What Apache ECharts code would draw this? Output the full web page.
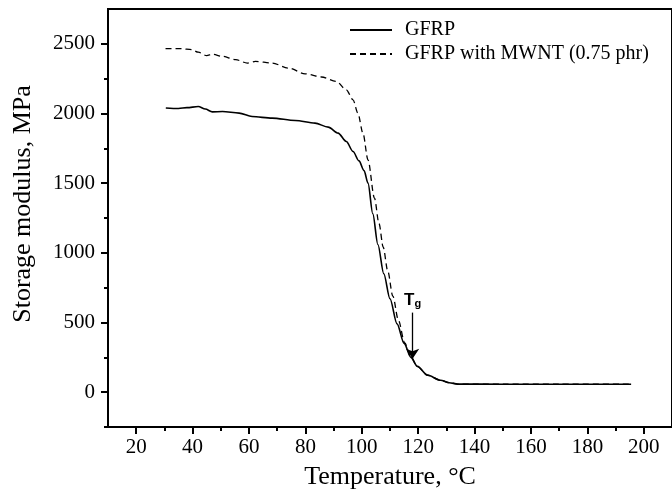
<!DOCTYPE html>
<html>
<head>
<meta charset="utf-8">
<script src="https://cdn.jsdelivr.net/npm/echarts@6/dist/echarts.min.js"></script>
<style>
    html, body { margin: 0; padding: 0; background: #fff; }
    #chart { width: 672px; height: 495px; }
</style>
</head>
<body>
<div id="chart"></div>
<script>
// storage modulus vs temperature
const gfrpTemp = [30.5, 35, 38, 42, 44.5, 47, 50.6, 56.5, 61.1, 68.2, 76.4, 83.4, 88.1, 91.6, 94.5, 96.9, 99.0, 100.8, 102.2, 103.9, 105.7, 107.8, 110.0, 112.5, 115.0, 117.4, 119.7, 123.3, 127.9, 131, 134, 150, 170, 195.5];
const gfrpMod  = [2040, 2036, 2042, 2050, 2032, 2012, 2014, 2003, 1978, 1967, 1950, 1931, 1902, 1859, 1799, 1727, 1660, 1590, 1500, 1280, 1060, 850, 670, 490, 350, 250, 185, 122, 86, 68, 58, 57, 57, 57];

const mwntTemp = [30.4, 36, 39.7, 42, 45, 47, 50.6, 55.3, 59.4, 62.3, 68.2, 74.0, 79.9, 85.7, 91.0, 94.5, 96.9, 98.6, 100.4, 102.2, 104.5, 106.1, 107.6, 109.2, 111.0, 113.0, 115.2, 117.4, 119.7, 123.3, 127.9, 131, 134, 150, 170, 195.5];
const mwntMod  = [2465, 2465, 2458, 2440, 2415, 2425, 2410, 2386, 2362, 2374, 2362, 2326, 2285, 2262, 2230, 2170, 2098, 2003, 1859, 1667, 1392, 1210, 1040, 870, 690, 515, 355, 252, 185, 122, 86, 68, 58, 57, 57, 57];

const seriesNames = ['GFRP', 'GFRP with MWNT (0.75 phr)'];

const xTicks = [20, 40, 60, 80, 100, 120, 140, 160, 180, 200];
const xMinorTicks = [30, 50, 70, 90, 110, 130, 150, 170, 190];
const yTicks = [0, 500, 1000, 1500, 2000, 2500];
const yMinorTicks = [-250, 250, 750, 1250, 1750, 2250];

// Tg arrow: [temperature, from modulus, to modulus]
const tgArrow = [118, 571, 240];

const SERIF = 'Liberation Serif';
const zip = (xs, ys) => xs.map((x, i) => [x, ys[i]]);

const chart = echarts.init(document.getElementById('chart'));

const baseX = { type: 'value', min: 10, max: 210, splitLine: { show: false } };
const baseY = { type: 'value', min: -250, max: 2750, splitLine: { show: false } };

chart.setOption({
    animation: false,
    backgroundColor: '#fff',
    grid: { left: 108, right: -6, top: 9, bottom: 67, show: true, borderColor: '#000', borderWidth: 2 },
    legend: {
        data: seriesNames,
        orient: 'vertical',
        left: 349,
        top: 20,
        padding: 0,
        itemWidth: 42,
        itemHeight: 10,
        itemGap: 4,
        itemStyle: { color: 'transparent', borderWidth: 0 },
        textStyle: { fontFamily: SERIF, fontSize: 20, color: '#000', padding: [0, 0, 0, 8] }
    },
    xAxis: [
        {
            ...baseX,
            name: 'Temperature, °C',
            nameLocation: 'middle',
            nameGap: 37,
            nameTextStyle: { fontFamily: SERIF, fontSize: 26, color: '#000' },
            axisLine: { onZero: false, lineStyle: { color: '#000', width: 2 } },
            axisTick: { customValues: xTicks, length: 7, lineStyle: { color: '#000', width: 2 } },
            axisLabel: { customValues: xTicks, margin: 10, fontFamily: SERIF, fontSize: 21, color: '#000' }
        },
        {
            ...baseX,
            position: 'bottom',
            axisLine: { show: false, onZero: false },
            axisTick: { customValues: xMinorTicks, length: 4, lineStyle: { color: '#000', width: 2 } },
            axisLabel: { show: false }
        }
    ],
    yAxis: [
        {
            ...baseY,
            name: 'Storage modulus, MPa',
            nameLocation: 'middle',
            nameGap: 72,
            nameTextStyle: { fontFamily: SERIF, fontSize: 26, color: '#000', padding: [0, 0, 0, 28] },
            axisLine: { onZero: false, lineStyle: { color: '#000', width: 2 } },
            axisTick: { customValues: yTicks, length: 7, lineStyle: { color: '#000', width: 2 } },
            axisLabel: { customValues: yTicks, margin: 13, fontFamily: SERIF, fontSize: 21, color: '#000', formatter: v => String(v) }
        },
        {
            ...baseY,
            position: 'left',
            axisLine: { show: false, onZero: false },
            axisTick: { customValues: yMinorTicks, length: 4, lineStyle: { color: '#000', width: 2 } },
            axisLabel: { show: false }
        }
    ],
    series: [
        {
            name: seriesNames[0],
            type: 'line',
            data: zip(gfrpTemp, gfrpMod),
            symbol: 'none',
            smooth: 0.3,
            smoothMonotone: 'x',
            color: '#000',
            lineStyle: { color: '#000', width: 1.6 },
            z: 3,
            markLine: {
                silent: true,
                symbol: ['none', 'arrow'],
                symbolSize: 10,
                lineStyle: { color: '#000', width: 1.3, type: 'solid' },
                label: {
                    show: true,
                    position: 'start',
                    distance: 3,
                    formatter: '{t|T}{s|g}',
                    rich: {
                        t: { fontFamily: 'Liberation Sans', fontWeight: 'bold', fontSize: 17, color: '#000', lineHeight: 18 },
                        s: { fontFamily: 'Liberation Sans', fontWeight: 'bold', fontSize: 11, color: '#000', lineHeight: 10, verticalAlign: 'bottom' }
                    }
                },
                data: [[
                    { coord: [tgArrow[0], tgArrow[1]] },
                    { coord: [tgArrow[0], tgArrow[2]] }
                ]]
            }
        },
        {
            name: seriesNames[1],
            type: 'line',
            data: zip(mwntTemp, mwntMod),
            symbol: 'none',
            smooth: 0.3,
            smoothMonotone: 'x',
            color: '#000',
            lineStyle: { color: '#000', width: 1.3, type: [6, 4] },
            z: 2
        }
    ]
});
</script>
</body>
</html>
